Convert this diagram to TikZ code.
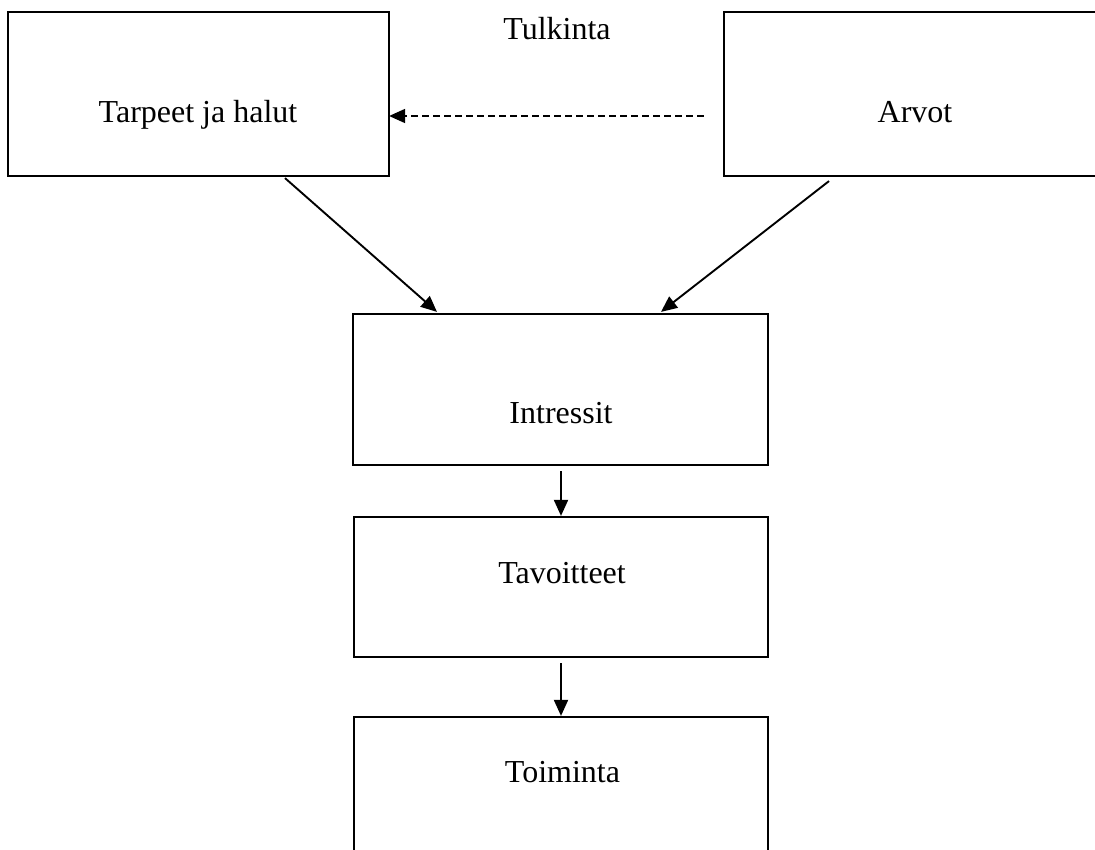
\documentclass[tikz,border=0pt]{standalone}
\usepackage{fontspec}
\setmainfont{Liberation Serif}
\usetikzlibrary{arrows.meta}
\begin{document}
\begin{tikzpicture}[x=1pt,y=-1pt,
  boxnode/.style={draw=black,line width=2.2pt,inner sep=0pt,rectangle},
  lbl/.style={anchor=base,inner sep=0pt,font=\fontsize{32}{38}\selectfont},
  arr/.style={line width=1.9pt,-{Triangle[length=16pt,width=14pt]}},
  dasharr/.style={line width=1.6pt,dash pattern=on 7pt off 4pt,-{Triangle[length=16pt,width=14pt]}}]
\useasboundingbox (0,0) rectangle (1095,850);
\clip (0,0) rectangle (1095,850);
\fill[white] (0,0) rectangle (1095,850);
% boxes
\node[boxnode,minimum width=381pt,minimum height=164pt] (b1) at (198.5,94) {};
\node[boxnode,minimum width=381pt,minimum height=164pt] (b2) at (914.5,94) {};
\node[boxnode,minimum width=415pt,minimum height=151pt] (intr) at (560.5,389.5) {};
\node[boxnode,minimum width=414pt,minimum height=140pt] (tav) at (561,587) {};
\node[boxnode,minimum width=414pt,minimum height=183pt] (toim) at (561,808.5) {};
% labels
\node[lbl] (t1) at (198,123) {Tarpeet ja halut};
\node[lbl] (t2) at (915,123) {Arvot};
\node[lbl] (tulk) at (557,40) {Tulkinta};
\node[lbl] (t3) at (561,423) {Intressit};
\node[lbl] (t4) at (562,583) {Tavoitteet};
\node[lbl] (t5) at (562.5,782) {Toiminta};
% connectors
\draw[arr] ([xshift=86.5pt,yshift=-1pt]b1.south) -- ([xshift=-123.5pt,yshift=1pt]intr.north);
\draw[arr] ([xshift=-85.5pt,yshift=-4pt]b2.south) -- ([xshift=100.5pt,yshift=1pt]intr.north);
\draw[arr] ([xshift=0.5pt,yshift=-5pt]intr.south) -- (tav.north);
\draw[arr] ([yshift=-5pt]tav.south) -- (toim.north);
\draw[dasharr] ([xshift=-19pt,yshift=-22pt]b2.west) -- ([xshift=-1pt,yshift=-22pt]b1.east);
\end{tikzpicture}
\end{document}
